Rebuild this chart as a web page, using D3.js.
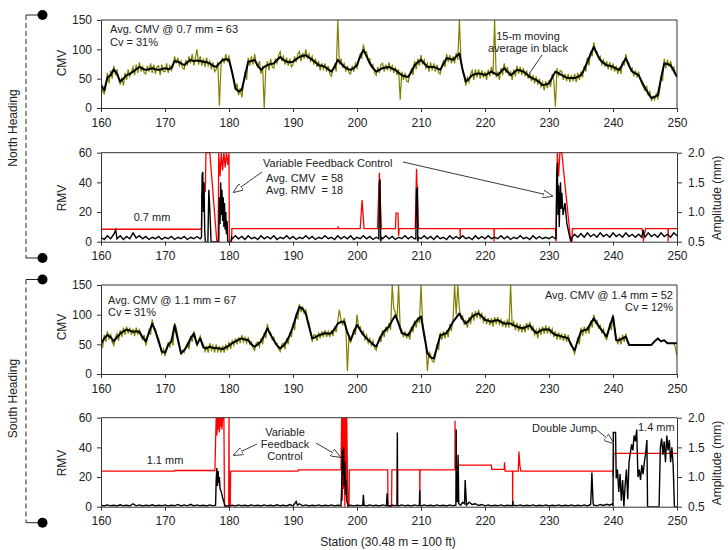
<!DOCTYPE html>
<html lang="en">
<head>
<meta charset="utf-8" />
<title>CMV / RMV along station – North and South heading</title>
<script src="https://d3js.org/d3.v7.min.js"></script>
<style>
  body { margin: 0; background: #fff; font-family: "Liberation Sans", Arial, sans-serif; }
  svg { display: block; }
  .axis path, .axis line { stroke: #333; }
  .axis text { font-size: 12px; fill: #222; font-family: "Liberation Sans", Arial, sans-serif; }
  .note { font-size: 11px; fill: #222; white-space: pre; }
  .title { font-size: 12px; fill: #222; }
</style>
</head>
<body>
<div id="chart"></div>
<script>
/* ---------------------------- DATA ---------------------------- */
const stationTicks = [160, 170, 180, 190, 200, 210, 220, 230, 240, 250];
const cmvTicks = [0, 50, 100, 150];
const rmvTicks = [0, 20, 40, 60];
const ampTicks = [0.5, 1.0, 1.5, 2.0];

// raw CMV sampled every 0.25 station from 160, moving average every 0.5 station
const RAW_STEP = 0.25;
const AVG_STEP = 0.5;

// North heading – raw CMV (olive)
const northCmvRaw = [
  38,28,24,35, 60,42,64,50, 72,58,66,50, 40,52,38,60, 48,66,54,62, 70,56,74,60, 78,62,72,60, 58,72,62,76, 60,74,58,70, 72,56,74,62,
  62,76,60,72, 64,72,88,76, 86,72,80,68, 66,82,74,88, 76,92,72,86, 100,74,88,72, 84,70,86,72, 80,66,78,62, 66,78,4,72, 86,76,92,80,
  88,74,62,48, 30,42,22,34, 18,40,62,48, 86,72,88,74, 92,76,70,80, 58,72,0,66, 80,64,84,70, 68,84,76,90, 96,80,88,74, 86,72,84,70,
  74,88,78,92, 96,80,94,84, 100,84,92,80, 88,74,84,70, 80,64,76,66, 76,62,72,58, 54,66,74,62, 150,74,84,70, 76,62,72,60, 58,72,62,76,
  68,82,92,84, 108,94,96,82, 84,70,74,60, 56,70,60,74, 76,62,74,64, 78,64,72,60, 70,56,66,14, 62,48,60,46, 44,58,66,56, 80,66,84,72,
  90,74,82,68, 76,62,78,64, 76,62,74,60, 58,72,80,70, 92,78,90,76, 88,76,94,82, 150,80,66,54, 38,52,44,58, 64,48,66,52, 66,50,64,52,
  62,48,66,54, 70,56,150,52, 62,48,68,56, 76,60,70,56, 62,48,66,54, 72,58,70,56, 68,54,64,50, 60,46,56,42, 54,40,50,36, 44,30,46,34,
  48,36,58,46, 2,68,54,64, 62,48,58,46, 58,44,56,46, 58,44,60,48, 62,52,72,62, 86,72,96,88, 112,98,96,84, 88,74,82,70, 80,66,78,64,
  76,62,72,58, 70,58,80,72, 92,78,76,64, 68,54,64,52, 62,48,42,36, 30,38,22,28, 12,20,14,24, 16,26,54,46, 84,68,82,70, 80,66,70,58,
  56
];
// North heading – 15-m moving average (black)
const northCmvAvg = [
  40,30,52,56,66,58,45,50,56,58,62,66,70,67,65,66,68,66,65,66,
  68,66,68,80,79,76,73,78,82,80,81,80,79,78,76,72,70,76,82,83,
  82,60,34,28,31,55,79,80,82,72,65,70,73,75,76,82,87,82,79,78,
  79,83,87,89,90,86,82,78,73,72,70,66,62,70,82,76,70,67,65,68,
  73,88,99,88,76,68,62,65,68,69,70,67,65,60,56,54,53,62,73,78,
  82,76,70,70,70,68,65,75,85,84,82,88,93,65,45,50,56,58,59,58,
  56,59,62,59,56,62,68,62,56,60,65,64,62,58,53,50,48,44,39,40,
  42,52,62,59,56,53,51,51,51,53,56,66,79,92,104,92,82,77,73,72,
  70,67,65,75,85,72,62,59,56,45,34,25,17,19,22,50,76,75,73,63,
  53
];

// South heading – raw CMV (olive), no raw record between 242.75 and 249.25
const southCmvRaw = [
  58,44,66,54, 72,58,68,54, 48,62,68,56, 74,62,78,66, 80,68,78,66, 76,64,78,66, 76,64,58,66, 48,60,74,66, 92,80,76,64, 60,48,34,42,
  30,40,54,44, 60,48,86,78, 64,50,32,40, 36,46,52,42, 64,54,72,62, 46,56,64,54, 50,38,46,36, 52,40,48,36, 50,38,46,36, 48,36,50,40,
  54,42,56,48, 60,50,62,52, 66,54,62,52, 62,50,54,44, 40,52,54,46, 60,50,70,60, 84,70,70,58, 62,50,52,42, 38,50,52,42, 60,50,70,62,
  86,74,102,92, 118,104,114,102, 108,92,86,70, 54,66,66,56, 70,60,72,62, 74,62,72,62, 74,64,80,70, 90,108,92,82, 94,82,5,64, 52,64,76,66,
  100,78,80,68, 72,58,66,52, 60,48,56,44, 40,52,62,54, 74,62,80,70, 86,74,150,110, 104,90,150,78, 74,62,72,60, 70,58,80,70, 90,78,96,86,
  150,88,70,56, 5,38,32,22, 20,30,50,40, 70,58,72,60, 74,62,84,72, 92,150,100,150, 110,94,98,84, 90,78,96,84, 104,90,106,94, 108,94,102,88,
  96,84,94,82, 94,80,96,84, 96,84,92,80, 90,78,92,78, 150,80,88,74, 86,72,84,70, 82,70,86,74, 88,74,80,66, 74,60,78,66, 80,68,82,68,
  80,68,76,62, 72,58,70,58, 68,56,68,54, 66,54,52,42, 34,46,62,50, 78,64,80,68, 80,68,90,78, 100,86,90,78, 82,70,76,62, 58,70,86,74,
  100,80,60,50, 62,50,66,54, 68,56,50,null,
  null,null,null,null, null,null,null,null, null,null,null,null, null,null,null,null, null,null,null,null, null,null,null,null,
  null,null,52,45,
  30
];
// South heading – moving average (black)
const southCmvAvg = [
  51,60,66,62,55,62,68,72,75,73,71,72,71,62,55,70,85,72,55,38,
  36,49,55,82,58,35,40,48,60,68,50,60,45,43,46,44,44,43,42,45,
  48,52,55,58,60,58,57,50,46,50,55,65,77,66,57,48,43,48,55,66,
  80,98,113,110,102,80,60,62,65,67,69,68,69,76,85,88,88,70,57,70,
  83,74,66,60,55,50,46,58,69,75,80,90,99,85,69,67,65,75,85,92,
  97,65,35,28,26,45,65,67,69,78,88,95,102,92,85,90,97,100,102,97,
  91,90,88,90,91,88,85,85,85,82,80,78,77,80,82,75,69,72,75,75,
  75,70,66,65,63,62,60,48,40,56,72,74,75,85,94,85,77,70,63,80,
  97,57,57,60,63,49,49,49,49,49,49,49,49,55,60,55,57,52,52,52,
  52
];

// North heading – RMV (black) as [station, RMV]
const northRmv = [
  [160,3],[160.5,1.5],[161,4],[161.5,2],[162,5],[162.3,8],[162.5,2],[163,4],[163.5,1.5],[164,3.5],[164.5,2],[165,6],[165.5,2.5],[166,4],[166.5,2],[167,3.5],[167.5,1.5],[168,3],[168.5,2],[169,3.5],[169.5,1.5],[170,3],[170.5,2],[171,3.5],[171.5,1.5],[172,3],[172.5,2],[173,3.5],[173.5,1.5],[174,3],[174.5,2],[175,3.5],[175.5,2],
  [175.7,3],[175.8,45],[175.9,47],[176.0,20],[176.1,40],[176.2,8],[176.3,0],[176.7,0],[176.85,35],[177.0,22],[177.2,0],[178.4,0],[178.5,30],[178.6,12],[178.7,40],[178.8,18],[178.9,35],[179.0,14],[179.1,30],[179.2,10],[179.3,26],[179.4,8],[179.5,20],[179.6,5],[179.7,14],[179.8,0],[180.3,0],[180.4,3],
  [180.5,2],[181,4],[181.5,2],[182,3.5],[182.5,1.5],[183,4],[183.5,2],[184,3],[184.5,1.5],[185,4],[185.5,2],[186,3.5],[186.5,2],[187,4],[187.5,1.5],[188,3],[188.5,2],[189,4],[189.5,2],[190,3.5],[190.5,1.5],[191,3],[191.5,2],[192,4],[192.5,2],[193,3.5],[193.5,1.5],[194,3],[194.5,2],[195,4],[195.5,2],[196,3],[196.5,1.5],[197,4],[197.5,2],[198,3.5],[198.5,2],[199,4],[199.5,1.5],[200,3],[200.5,2],[201,4],[201.5,2],[202,3.5],[202.5,1.5],[203,3],
  [203.4,2],[203.5,40],[203.6,42],[203.7,0],[203.8,3],
  [204,2],[204.5,4],[205,2],[205.5,3.5],[206,1.5],[206.5,3],[207,2],[207.5,4],[208,2],[208.5,3.5],[209,2],
  [209.2,2],[209.3,35],[209.45,36],[209.5,0],[209.6,3],
  [210,2],[210.5,4],[211,2],[211.5,3.5],[212,1.5],[212.5,4],[213,2],[213.5,3],[214,1.5],[214.5,4],[215,2],[215.5,3.5],[216,2],[216.5,4],[217,2],[217.5,3],[218,1.5],[218.5,4],[219,2],[219.5,3.5],[220,2],[220.5,4],[221,2],[221.5,3],[222,2],[222.5,4],[223,2],[223.5,3.5],[224,1.5],[224.5,3],[225,2],[225.5,4],[226,2],[226.5,3],[227,1.5],[227.5,4],[228,2],[228.5,3.5],[229,2],[229.5,3],[230,2],[230.5,3.5],[231,2],
  [231.1,2],[231.2,45],[231.3,53],[231.4,18],[231.5,38],[231.6,10],[231.7,28],[231.8,40],[231.9,22],[232.0,33],[232.2,18],[232.5,26],[232.8,12],[233.1,6],[233.4,0],[233.6,3],
  [234,5],[234.5,3],[235,5.5],[235.5,3],[236,6],[236.5,3.5],[237,5],[237.5,3],[238,6],[238.5,3.5],[239,5],[239.5,3],[240,6],[240.5,3.5],[241,5],[241.5,3],[242,6],[242.5,3.5],[243,5],[243.5,3],[244,5],[244.5,3],[244.7,8],[245,3],[245.5,6],[246,3.5],[246.5,5],[247,3],[247.5,6],[248,3.5],[248.5,5],[249,3],[249.5,6],[250,4]
];
// North heading – vibration amplitude (red) as [station, mm]
const northAmp = [
  [160,0.71],[175.7,0.71],[175.75,1.3],[176.3,1.35],[176.4,2.0],[177.0,2.0],[178.1,0.5],[178.3,0.5],[178.4,2.0],[178.6,1.6],[178.8,2.0],[179.0,1.7],[179.2,2.0],[179.4,1.75],[179.6,2.0],[179.8,1.8],[180.0,2.0],[180.05,0.5],[180.4,0.5],[180.45,0.72],
  [197,0.72],[197.05,0.76],[197.1,0.72],[200.5,0.72],[200.8,1.2],[201.1,0.72],[203.2,0.72],[203.5,1.66],[203.8,0.72],[206.0,0.72],[206.1,0.98],[206.4,0.98],[206.5,0.6],[206.6,0.72],[209.1,0.72],[209.3,1.73],[209.6,0.72],
  [216.1,0.72],[216.12,0.55],[216.15,0.72],[221.4,0.72],[221.42,0.5],[221.45,0.72],[231.0,0.72],[231.1,0.5],[231.3,2.0],[231.5,1.6],[231.7,2.0],[232.0,2.0],[233.4,0.5],[233.6,0.5],[233.65,0.72],
  [244.5,0.72],[244.7,0.65],[244.75,0.5],[244.8,0.66],[245.0,0.66],[245.1,0.72],[248.6,0.72],[248.62,0.5],[248.65,0.72],[250,0.72]
];

// South heading – RMV (black) as [station, RMV]
const southRmv = [
  [160,1],[160.5,0.5],[161,1.2],[161.5,0.6],[162,1],[162.5,0.5],[163,1.3],[163.5,0.6],[164,1],[164.5,0.5],[165,2],[165.5,0.6],[166,1.2],[166.5,0.5],[167,1],[167.5,0.6],[168,1.3],[168.5,0.5],[169,1],[169.5,0.6],[170,1.2],[170.5,0.5],[171,1],[171.5,0.6],[172,1.5],[172.5,0.5],[173,1.2],[173.5,0.6],[174,1.6],[174.5,0.5],[175,1.2],[175.5,0.6],[176,1],[176.5,0.5],[177,1.2],[177.5,0.6],[177.9,1],
  [178.0,18],[178.1,26],[178.2,14],[178.3,24],[178.4,16],[178.5,20],[178.6,12],[178.8,10],[179.0,6],[179.2,3],[179.4,0.5],
  [180,0.5],[180.5,1],[181,0.5],[181.5,1.2],[182,0.6],[182.5,1],[183,0.5],[183.5,1.2],[184,0.6],[184.5,1],[185,0.5],[185.5,1.2],[186,0.6],[186.5,1],[187,0.5],[187.5,1.3],[188,0.6],[188.5,1],[189,0.5],[189.5,1.4],[190,0.6],[190.5,3.5],[190.7,1],[191,2],[191.5,0.6],[192,1.2],[192.5,0.5],[193,1],[193.5,0.6],[194,1.2],[194.5,0.5],[195,1],[195.5,0.6],[196,1.2],[196.5,0.5],[197,1],[197.5,0.6],
  [197.6,12],[197.7,38],[197.8,22],[197.9,40],[198.0,14],[198.1,30],[198.2,8],[198.3,18],[198.4,4],[198.6,0.5],
  [199,1],[199.5,0.5],[200,1],[200.5,0.6],[200.9,1],[201.0,8],[201.1,1],[201.5,0.5],[202,1.2],[202.5,0.6],[203,1],[203.5,0.5],[204,1.2],[204.6,0.6],[204.7,9],[204.8,1],[205,0.5],[205.5,1],[206,0.6],[206.25,1],[206.3,50],[206.35,1],[206.5,0.5],[207,1.2],[207.5,0.6],[208,1],[208.5,0.5],[209,1.2],[209.5,0.6],[209.75,1],[209.8,11],[209.85,1],[210,0.5],[210.5,1.2],[211,0.6],[211.5,1],[212,0.5],[212.5,1.2],[213,0.6],[213.5,1],[214,0.5],[214.5,1.2],[215,0.6],
  [215.45,1],[215.5,52],[215.55,8],[215.7,3],[215.8,35],[215.9,2],[216.2,1],[216.5,3],[216.8,2],[216.9,18],[217.0,10],[217.1,1],[217.5,3],[218,1.5],[218.5,2],[219,0.8],[219.5,1.5],[220,0.6],[220.5,1.2],[221,0.5],[221.5,1],[222,0.6],[222.5,1.2],[223,0.5],[223.5,1],[224,0.6],[224.3,1],[224.35,4],[224.4,1],[225,0.6],[225.5,1.2],[226,0.5],[226.5,1],[227,0.6],[227.5,1.2],[228,0.5],[228.5,1],[229,0.6],[229.5,1.2],[230,0.5],[230.5,1],[231,0.6],[231.5,1.2],[232,0.5],[232.5,1],[233,0.6],[233.5,1.2],[234,0.5],[234.5,1],[235,0.6],[235.5,1.2],[236,0.5],[236.5,1.5],[236.6,10],[236.7,23],[236.8,12],[236.9,2],[237,1],[237.5,0.6],[238,1.5],[238.5,0.8],[239,1.6],[239.5,1],[239.9,2],
  [240.0,0.5],[240.05,50],[240.4,50],[240.5,19],[240.7,25],[240.9,10],[241.1,22],[241.3,4],[241.5,18],[241.7,0],[241.9,15],[242.1,25],[242.3,5],[242.5,30],[242.7,36],[242.9,42],[243.1,38],[243.3,48],[243.5,44],[243.7,52],[243.9,20],[244.1,25],[244.3,18],[244.5,28],[244.7,22],[244.9,30],[245.1,36],[245.3,45],[245.4,0],[247.2,0],[247.4,40],[247.6,46],[247.8,35],[248.0,44],[248.2,30],[248.4,48],[248.6,38],[248.8,45],[249.0,30],[249.2,40],[249.4,28],[249.6,0],[250,0]
];
// South heading – vibration amplitude (red) as [station, mm]
const southAmp = [
  [160,1.1],[171.5,1.1],[171.6,1.11],[177.8,1.11],[177.9,1.6],[178.0,2.0],[178.1,1.7],[178.2,2.0],[178.3,1.8],[178.4,2.0],[178.5,1.75],[178.6,2.0],[178.7,1.85],[178.8,2.0],[178.9,1.8],[179.0,2.0],[179.2,2.0],[179.3,0.5],[179.95,0.5],[180.0,2.0],[180.05,0.5],[180.2,0.5],[180.25,1.1],
  [190.8,1.1],[190.85,1.12],[197.5,1.12],[197.6,2.0],[197.7,0.6],[197.8,2.0],[197.9,0.8],[198.0,2.0],[198.1,0.5],[198.2,2.0],[198.3,0.7],[198.4,2.0],[198.5,1.0],[198.6,0.5],[198.75,0.5],[198.8,1.12],
  [204.8,1.12],[204.85,0.5],[205.4,0.5],[205.45,1.12],[206.3,1.12],[206.32,0.5],[206.35,1.12],[209.8,1.12],[209.82,0.5],[209.85,1.12],[215.3,1.12],[215.32,1.95],[215.35,1.12],[215.8,1.12],[215.85,1.2],
  [221.0,1.2],[221.05,1.13],[223.0,1.13],[223.05,1.25],[223.15,1.1],[224.3,1.1],[224.32,0.5],[224.35,1.1],[225.2,1.1],[225.3,1.43],[225.45,1.2],[225.6,1.1],[240.0,1.1],[240.05,1.0],[240.1,1.4],[250,1.4]
];

/* --------------------------- LAYOUT --------------------------- */
const W = 728, H = 550;
const x = d3.scaleLinear().domain([160, 250]).range([101, 677]);

const svg = d3.select('#chart').append('svg').attr('width', W).attr('height', H);

const panels = [
  { id: 'nCmv', top: 20, bottom: 108, kind: 'cmv', raw: northCmvRaw, avg: northCmvAvg },
  { id: 'nRmv', top: 152.7, bottom: 241.7, kind: 'rmv', rmv: northRmv, amp: northAmp },
  { id: 'sCmv', top: 285, bottom: 374, kind: 'cmv', raw: southCmvRaw, avg: southCmvAvg },
  { id: 'sRmv', top: 417.7, bottom: 506.7, kind: 'rmv', rmv: southRmv, amp: southAmp },
];

const defs = svg.append('defs');
defs.append('marker')
  .attr('id', 'arrow')
  .attr('viewBox', '0 0 10 8')
  .attr('refX', 9).attr('refY', 4)
  .attr('markerWidth', 10).attr('markerHeight', 8)
  .attr('markerUnits', 'userSpaceOnUse')
  .attr('orient', 'auto')
  .append('path')
  .attr('d', 'M0,0 L10,4 L0,8 Z')
  .attr('fill', '#fff').attr('stroke', '#222').attr('stroke-width', 0.8);

panels.forEach((p) => {
  defs.append('clipPath').attr('id', 'clip-' + p.id)
    .append('rect').attr('x', 101).attr('y', p.top - 1)
    .attr('width', 576).attr('height', p.bottom - p.top + 1);

  const g = svg.append('g');
  const plot = g.append('g').attr('clip-path', `url(#clip-${p.id})`);

  if (p.kind === 'cmv') {
    const y = d3.scaleLinear().domain([0, 150]).range([p.bottom, p.top]);
    const seriesLine = (step) => d3.line()
      .defined((d) => d != null)
      .x((d, i) => x(160 + i * step))
      .y((d) => y(d));
    plot.append('path').attr('d', seriesLine(RAW_STEP)(p.raw))
      .attr('fill', 'none').attr('stroke', '#808000').attr('stroke-width', 1.2);
    plot.append('path').attr('d', seriesLine(AVG_STEP)(p.avg))
      .attr('fill', 'none').attr('stroke', '#000').attr('stroke-width', 2).attr('stroke-linejoin', 'round');

    g.append('g').attr('class', 'axis').attr('transform', 'translate(101,0)')
      .call(d3.axisLeft(y).tickValues(cmvTicks).tickSize(4).tickSizeOuter(0).tickPadding(5));
    g.append('line').attr('x1', 677).attr('x2', 677).attr('y1', p.top).attr('y2', p.bottom).attr('stroke', '#333');
  } else {
    const y = d3.scaleLinear().domain([0, 60]).range([p.bottom, p.top]);
    const ya = d3.scaleLinear().domain([0.5, 2.0]).range([p.bottom, p.top]);
    plot.append('path')
      .attr('d', d3.line().x((d) => x(d[0])).y((d) => ya(d[1]))(p.amp))
      .attr('fill', 'none').attr('stroke', '#ff0000').attr('stroke-width', 1.3);
    plot.append('path')
      .attr('d', d3.line().x((d) => x(d[0])).y((d) => y(d[1]))(p.rmv))
      .attr('fill', 'none').attr('stroke', '#000').attr('stroke-width', 1.4);

    g.append('g').attr('class', 'axis').attr('transform', 'translate(101,0)')
      .call(d3.axisLeft(y).tickValues(rmvTicks).tickSize(4).tickSizeOuter(0).tickPadding(5));
    g.append('g').attr('class', 'axis').attr('transform', 'translate(677,0)')
      .call(d3.axisRight(ya).tickValues(ampTicks).tickFormat(d3.format('.1f')).tickSize(5).tickSizeOuter(0).tickPadding(6));
  }

  g.append('g').attr('class', 'axis').attr('transform', `translate(0,${p.bottom})`)
    .call(d3.axisBottom(x).tickValues(stationTicks).tickFormat(d3.format('d')).tickSize(4).tickSizeOuter(0).tickPadding(6));
  g.append('line').attr('x1', 101).attr('x2', 677).attr('y1', p.top).attr('y2', p.top).attr('stroke', '#333');
});

/* --------------------------- TEXTS --------------------------- */
function note(txt, tx, ty, anchor = 'start') {
  svg.append('text').attr('class', 'note').attr('x', tx).attr('y', ty)
    .attr('text-anchor', anchor).attr('xml:space', 'preserve').text(txt);
}
function vtitle(txt, cx, cy, size = 12) {
  svg.append('text').attr('class', 'title').attr('font-size', size)
    .attr('text-anchor', 'middle')
    .attr('transform', `translate(${cx},${cy}) rotate(-90)`)
    .text(txt);
}
function arrow(x1, y1, x2, y2, head = true) {
  const l = svg.append('line').attr('x1', x1).attr('y1', y1).attr('x2', x2).attr('y2', y2)
    .attr('stroke', '#222').attr('stroke-width', 0.9);
  if (head) l.attr('marker-end', 'url(#arrow)');
}

// axis titles
vtitle('CMV', 66, 63);
vtitle('RMV', 66, 198);
vtitle('CMV', 66, 327);
vtitle('RMV', 66, 463);
vtitle('Amplitude (mm)', 721, 198);
vtitle('Amplitude (mm)', 721, 463);
svg.append('text').attr('class', 'title').attr('x', 388).attr('y', 546)
  .attr('text-anchor', 'middle').text('Station (30.48 m = 100 ft)');

// panel 1
note('Avg. CMV @ 0.7 mm = 63', 110, 33);
note('Cv = 31%', 110, 45.5);
note('15-m moving', 528, 40, 'middle');
note('average in black', 528, 51.5, 'middle');
arrow(542, 55, 529, 74, false);

// panel 2
note('0.7 mm', 152, 221, 'middle');
note('Variable Feedback Control', 263, 167);
note('Avg. CMV  = 58', 266, 182);
note('Avg. RMV  = 18', 266, 194);
arrow(262, 172, 234, 192);
arrow(403, 162, 552, 196);

// panel 3
note('Avg. CMV @ 1.1 mm = 67', 108, 304);
note('Cv = 31%', 108, 316);
note('Avg. CMV @ 1.4 mm = 52', 673, 299, 'end');
note('Cv = 12%', 673, 311, 'end');

// panel 4
note('1.1 mm', 165, 464, 'middle');
note('Variable', 285, 435.5, 'middle');
note('Feedback', 285, 448, 'middle');
note('Control', 285, 460, 'middle');
arrow(257, 444, 234, 455);
arrow(316, 443, 340, 457);
note('Double Jump', 532, 432);
arrow(597, 430, 613, 443);
note('1.4 mm', 638, 431);

/* -------------------- HEADING BRACKETS -------------------- */
const brackets = [
  { label: 'North Heading', y1: 15, y2: 258, cy: 128 },
  { label: 'South Heading', y1: 279.5, y2: 522.7, cy: 398.5 },
];
brackets.forEach((b) => {
  const g = svg.append('g');
  g.append('line').attr('x1', 26).attr('x2', 26).attr('y1', b.y1).attr('y2', b.y2)
    .attr('stroke', '#222').attr('stroke-dasharray', '5,3');
  [b.y1, b.y2].forEach((yy) => {
    g.append('line').attr('x1', 26).attr('x2', 40).attr('y1', yy).attr('y2', yy).attr('stroke', '#222');
    g.append('circle').attr('cx', 42.5).attr('cy', yy).attr('r', 5).attr('fill', '#000');
  });
  vtitle(b.label, 17, b.cy);
});
</script>
</body>
</html>
